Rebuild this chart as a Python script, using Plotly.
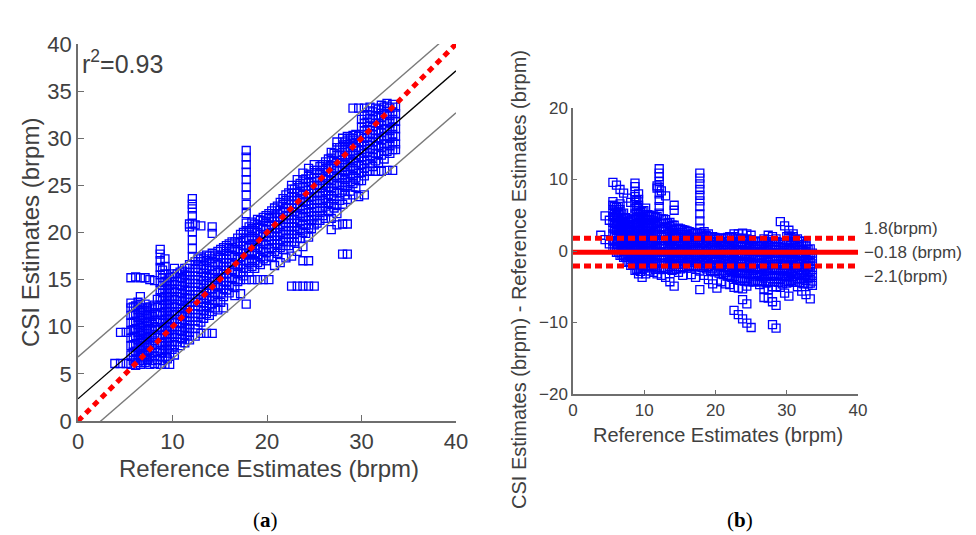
import plotly.graph_objects as go

# ---------------- data ----------------
# reference estimates (brpm) per column, and CSI estimates (brpm) in that column
ref_low = [3.9, 4.5, 5.1, 5.6, 6.1, 6.6, 7.1, 7.6, 8.1, 8.7, 9.2, 9.7]
csi_low = [
    [6.1],
    [6.1, 9.4],
    [6.1, 9.4],
    [6.0, 7.0, 8.0, 8.8, 9.6, 10.4, 11.2, 12.0, 12.5, 15.2],
    [5.9, 6.6, 7.4, 8.2, 9.0, 9.8, 10.6, 11.4, 12.2, 15.3],
    [6.0, 6.8, 7.6, 8.3, 9.1, 9.9, 10.7, 11.5, 12.4, 13.2, 15.2],
    [6.2, 7.0, 7.8, 8.6, 9.3, 10.1, 10.9, 11.7, 12.4, 15.2],
    [6.0, 6.7, 7.5, 8.3, 9.0, 9.8, 10.6, 11.3, 12.1, 15.0],
    [6.1, 6.9, 7.7, 8.5, 9.2, 10.0, 10.8, 11.5, 12.3, 14.9],
    [6.0, 6.8, 7.5, 8.3, 9.1, 9.9, 10.7, 11.5, 12.3, 13.1, 13.9, 14.7, 15.5, 16.3, 17.0, 17.7, 18.2],
    [6.0, 6.8, 7.6, 8.4, 9.2, 10.0, 10.8, 11.6, 12.4, 13.2, 14.0, 14.8, 15.6, 16.4, 17.2],
    [6.0, 7.2, 8.0, 8.8, 9.6, 10.4, 11.2, 12.0, 12.8, 13.6, 14.4, 15.2],
]

ref_mid = [10.2, 10.8, 11.3, 11.8, 12.1, 12.4, 13.0, 13.6, 14.2, 14.8, 15.4, 16.0,
           16.6, 17.2, 17.8, 18.4, 19.0, 19.6]
csi_mid = [
    [7.0, 8.1, 8.9, 9.7, 10.5, 11.3, 12.1, 12.9, 13.7, 14.5, 15.3, 16.2],
    [8.0, 8.8, 9.6, 10.4, 11.2, 12.0, 12.8, 13.6, 14.4, 15.2, 15.8],
    [8.3, 9.1, 9.9, 10.7, 11.5, 12.3, 13.1, 13.9, 14.7, 15.5, 16.2],
    [8.6, 9.4, 10.2, 11.0, 11.8, 12.6, 13.4, 14.2, 15.0, 15.8, 16.6, 20.6, 20.9],
    [17.4, 18.3, 19.2, 20.1, 21.0, 21.8, 22.5, 23.0, 23.6],
    [9.0, 9.8, 10.6, 11.4, 12.2, 13.0, 13.8, 14.6, 15.4, 16.2, 16.9, 20.8],
    [9.3, 10.5, 11.3, 12.1, 12.9, 13.7, 14.5, 15.3, 16.1, 16.9, 17.4, 20.7],
    [9.3, 11.4, 12.2, 13.0, 13.8, 14.6, 15.4, 16.2, 17.0, 17.6],
    [9.3, 11.6, 12.4, 13.2, 14.0, 14.8, 15.6, 16.4, 17.2, 17.8, 19.9, 20.6],
    [11.8, 12.6, 13.4, 14.2, 15.0, 15.8, 16.6, 17.4, 18.0],
    [12.0, 13.2, 14.0, 14.8, 15.6, 16.4, 17.2, 18.0, 18.4],
    [13.6, 14.4, 15.2, 16.0, 16.8, 17.6, 18.3, 18.8],
    [13.3, 14.2, 15.0, 15.8, 16.6, 17.4, 18.2, 19.0],
    [13.5, 15.0, 15.8, 16.6, 17.4, 18.2, 19.0, 19.8],
    [12.4, 15.0, 16.2, 17.0, 17.8, 18.6, 19.4, 20.2, 21.0, 22.0, 23.0, 24.0, 24.8,
     25.6, 26.4, 27.2, 28.0, 28.7],
    [15.0, 16.4, 17.2, 18.0, 18.8, 19.6, 20.4, 21.1],
    [15.0, 16.8, 17.6, 18.4, 19.2, 20.0, 20.8, 21.4],
    [15.0, 17.2, 18.0, 18.8, 19.6, 20.4, 21.2, 21.6],
]

ref_high = [20.2, 20.8, 21.4, 22.0, 22.6, 23.2, 23.8, 24.4, 25.0, 25.6, 26.2, 26.8,
            27.4, 28.0, 28.5, 29.1, 29.7, 30.3, 30.9, 31.5, 32.1, 32.7, 33.3, 33.6]
csi_high = [
    [15.0, 17.5, 18.3, 19.1, 19.9, 20.7, 21.5, 22.0],
    [16.5, 18.0, 18.8, 19.6, 20.4, 21.2, 22.0, 22.6],
    [16.8, 18.4, 19.2, 20.0, 20.8, 21.6, 22.4, 23.2],
    [17.3, 18.6, 19.4, 20.2, 21.0, 21.8, 22.6, 23.4, 24.0],
    [14.3, 17.5, 19.0, 19.8, 20.6, 21.4, 22.2, 23.0, 23.8, 24.6, 25.0],
    [14.3, 18.0, 19.4, 20.2, 21.0, 21.8, 22.6, 23.4, 24.2, 25.0, 25.6],
    [14.3, 17.0, 18.5, 20.0, 20.8, 21.6, 22.4, 23.2, 24.0, 24.8, 25.6, 26.3],
    [14.3, 17.0, 19.5, 20.5, 21.3, 22.1, 22.9, 23.7, 24.5, 25.3, 26.1, 26.8],
    [14.3, 20.8, 21.8, 22.6, 23.4, 24.2, 25.0, 25.8, 26.6, 27.2],
    [21.3, 22.3, 23.1, 23.9, 24.7, 25.5, 26.3, 27.0],
    [21.5, 22.8, 23.6, 24.4, 25.2, 26.0, 26.8, 27.5],
    [20.3, 21.5, 23.0, 23.9, 24.7, 25.5, 26.3, 27.1, 27.9, 28.5],
    [20.8, 22.0, 23.0, 24.2, 25.0, 25.8, 26.6, 27.4, 28.2, 29.0, 29.6],
    [17.7, 20.9, 23.0, 24.5, 25.3, 26.1, 26.9, 27.7, 28.5, 29.3, 30.0],
    [17.7, 20.9, 23.5, 25.0, 25.8, 26.6, 27.4, 28.2, 29.0, 29.8, 30.2],
    [24.0, 25.2, 26.0, 26.8, 27.6, 28.4, 29.2, 30.0, 30.3, 33.2],
    [23.8, 25.5, 26.3, 27.1, 27.9, 28.7, 29.5, 30.2, 33.2],
    [24.0, 26.0, 26.8, 27.6, 28.4, 29.2, 30.0, 30.8, 31.6, 32.4, 33.2],
    [26.5, 27.3, 28.1, 28.9, 29.7, 30.5, 31.3, 32.1, 32.9, 33.3],
    [26.5, 27.6, 28.4, 29.2, 30.0, 30.8, 31.6, 32.4, 33.2],
    [26.5, 28.2, 29.0, 29.8, 30.6, 31.4, 32.2, 33.0, 33.5],
    [26.6, 28.6, 29.4, 30.2, 31.0, 31.8, 32.6, 33.4, 33.7],
    [26.6, 28.8, 29.6, 30.4, 31.2, 32.0, 32.8, 33.6],
    [28.8, 29.4, 30.2, 31.0, 31.8, 32.6, 33.3],
]

# densely packed core of the cloud (between the columns above)
ref_core = [5.85, 6.35, 6.85, 7.35, 7.85, 8.4, 8.95, 9.45, 9.95, 10.5, 11.05, 11.55,
            12.7, 13.3, 13.9, 14.5, 15.1, 15.7, 16.3, 16.9, 17.5, 18.1, 18.7, 19.3,
            19.9, 20.5, 21.1, 21.7, 22.3, 22.9, 23.5, 24.1, 24.7, 25.3, 25.9, 26.5,
            27.1, 27.7, 28.25, 28.8, 29.4, 30.0, 30.6, 31.2, 31.8, 32.4, 33.0]
csi_core = [
    [6.4, 7.3, 8.1, 8.9, 9.7, 10.5, 11.3, 12.1],
    [6.2, 7.0, 7.8, 8.6, 9.4, 10.2, 11.0, 11.8, 12.6],
    [6.4, 7.2, 8.0, 8.8, 9.6, 10.4, 11.2, 12.0],
    [6.5, 7.3, 8.1, 8.9, 9.7, 10.5, 11.3, 12.0],
    [6.4, 7.2, 8.0, 8.8, 9.6, 10.4, 11.1, 11.9],
    [6.5, 7.3, 8.1, 8.9, 9.7, 10.5, 11.3, 12.1, 12.9],
    [6.4, 7.2, 8.0, 8.8, 9.6, 10.4, 11.2, 12.0, 12.8, 13.6, 14.4, 15.2, 16.0],
    [6.6, 7.6, 8.4, 9.2, 10.0, 10.8, 11.6, 12.4, 13.2, 14.0, 14.8],
    [7.6, 8.4, 9.2, 10.0, 10.8, 11.6, 12.4, 13.2, 14.0, 14.8, 15.6],
    [8.4, 9.2, 10.0, 10.8, 11.6, 12.4, 13.2, 14.0, 14.8, 15.6],
    [8.7, 9.5, 10.3, 11.1, 11.9, 12.7, 13.5, 14.3, 15.1, 15.9],
    [9.0, 9.8, 10.6, 11.4, 12.2, 13.0, 13.8, 14.6, 15.4, 16.2],
    [10.2, 11.0, 11.8, 12.6, 13.4, 14.2, 15.0, 15.8, 16.6, 17.2],
    [10.9, 11.7, 12.5, 13.3, 14.1, 14.9, 15.7, 16.5, 17.2],
    [11.2, 12.0, 12.8, 13.6, 14.4, 15.2, 16.0, 16.8, 17.5],
    [12.0, 12.8, 13.6, 14.4, 15.2, 16.0, 16.8, 17.6],
    [12.6, 13.6, 14.4, 15.2, 16.0, 16.8, 17.6, 18.2],
    [13.9, 14.8, 15.6, 16.4, 17.2, 18.0, 18.6],
    [14.3, 15.2, 16.0, 16.8, 17.6, 18.4, 19.0],
    [14.8, 15.6, 16.4, 17.2, 18.0, 18.8, 19.4],
    [15.4, 16.2, 17.0, 17.8, 18.6, 19.4, 20.0],
    [15.8, 16.8, 17.6, 18.4, 19.2, 20.0, 20.6],
    [16.2, 17.0, 17.8, 18.6, 19.4, 20.2, 20.9],
    [16.6, 17.4, 18.2, 19.0, 19.8, 20.6, 21.3],
    [17.0, 17.9, 18.7, 19.5, 20.3, 21.1, 21.8],
    [17.4, 18.4, 19.2, 20.0, 20.8, 21.6, 22.3],
    [17.8, 18.8, 19.6, 20.4, 21.2, 22.0, 22.8],
    [18.2, 19.0, 19.8, 20.6, 21.4, 22.2, 23.0, 23.6],
    [18.6, 19.4, 20.2, 21.0, 21.8, 22.6, 23.4, 24.2],
    [19.0, 19.8, 20.6, 21.4, 22.2, 23.0, 23.8, 24.6],
    [19.4, 20.4, 21.2, 22.0, 22.8, 23.6, 24.4, 25.2],
    [19.9, 20.9, 21.7, 22.5, 23.3, 24.1, 24.9, 25.7],
    [20.4, 21.4, 22.2, 23.0, 23.8, 24.6, 25.4, 26.2],
    [21.0, 21.8, 22.6, 23.4, 24.2, 25.0, 25.8, 26.6],
    [21.8, 22.6, 23.4, 24.2, 25.0, 25.8, 26.6, 27.2],
    [22.2, 23.2, 24.0, 24.8, 25.6, 26.4, 27.2, 27.8],
    [22.6, 23.6, 24.4, 25.2, 26.0, 26.8, 27.6, 28.4],
    [23.4, 24.2, 25.0, 25.8, 26.6, 27.4, 28.2, 29.0],
    [24.0, 24.8, 25.6, 26.4, 27.2, 28.0, 28.8, 29.6],
    [24.4, 25.4, 26.2, 27.0, 27.8, 28.6, 29.4, 30.0],
    [24.8, 25.8, 26.6, 27.4, 28.2, 29.0, 29.8, 30.4],
    [25.5, 26.4, 27.2, 28.0, 28.8, 29.6, 30.4, 31.2, 32.0],
    [26.5, 27.7, 28.5, 29.3, 30.1, 30.9, 31.7, 32.5],
    [27.0, 28.0, 28.8, 29.6, 30.4, 31.2, 32.0, 32.8],
    [27.4, 28.4, 29.2, 30.0, 30.8, 31.6, 32.4, 33.1],
    [27.8, 28.6, 29.4, 30.2, 31.0, 31.8, 32.6, 33.3],
    [28.4, 29.2, 30.0, 30.8, 31.6, 32.4, 33.2],
]

# fitted regression line and its band (panel a)
fit_slope = 0.87
fit_intercept = 2.35
fit_band = 4.45
line_x = [0, 40]

# Bland-Altman statistics (panel b)
bias = -0.18
loa_upper = 1.8
loa_lower = -2.1
bias_labels = ["1.8(brpm)", "\u22120.18 (brpm)", "\u22122.1(brpm)"]

# ---------------- build ----------------
ref, csi = [], []
for refs, cols in ((ref_low, csi_low), (ref_mid, csi_mid), (ref_high, csi_high),
                   (ref_core, csi_core)):
    for r, col in zip(refs, cols):
        ref += [r] * len(col)
        csi += col
diff = [c - r for r, c in zip(ref, csi)]

TXT = "#404040"
AX = "#6e6e6e"
FONT = "Liberation Sans, Arial, sans-serif"
marker = dict(symbol="square-open", size=8, color="rgb(0,0,255)",
              line=dict(width=1.3, color="rgb(0,0,255)"))

fig = go.Figure()
# panel (a)
fig.add_trace(go.Scatter(x=ref, y=csi, mode="markers", marker=marker,
                         xaxis="x", yaxis="y", showlegend=False))
for off, col, w in ((fit_band, "#7a7a7a", 1.4), (-fit_band, "#7a7a7a", 1.4), (0, "black", 1.3)):
    fig.add_trace(go.Scatter(x=line_x, y=[fit_slope * v + fit_intercept + off for v in line_x],
                             mode="lines", line=dict(color=col, width=w),
                             xaxis="x", yaxis="y", showlegend=False))
fig.add_trace(go.Scatter(x=line_x, y=line_x, mode="lines",
                         line=dict(color="red", width=5, dash="6px,5px"),
                         xaxis="x", yaxis="y", showlegend=False))
# panel (b)
fig.add_trace(go.Scatter(x=ref, y=diff, mode="markers", marker=marker,
                         xaxis="x2", yaxis="y2", showlegend=False))
fig.add_trace(go.Scatter(x=line_x, y=[bias, bias], mode="lines",
                         line=dict(color="red", width=5),
                         xaxis="x2", yaxis="y2", showlegend=False))
for lv in (loa_upper, loa_lower):
    fig.add_trace(go.Scatter(x=line_x, y=[lv, lv], mode="lines",
                             line=dict(color="red", width=5, dash="7px,4px"),
                             xaxis="x2", yaxis="y2", showlegend=False))

axis_common = dict(showgrid=False, zeroline=False, showline=True, linecolor=AX, linewidth=1.5,
                   ticks="inside", tickcolor=AX, tickwidth=1.2, mirror=False,
                   automargin=False)

fig.update_layout(
    width=976, height=535, margin=dict(l=0, r=0, t=0, b=0, autoexpand=False),
    paper_bgcolor="white", plot_bgcolor="white",
    font=dict(family=FONT, color=TXT),
    xaxis=dict(domain=[78 / 976, 456 / 976], range=[0, 40], tickvals=[0, 10, 20, 30, 40],
               ticklen=6, tickfont=dict(size=22, color=TXT), anchor="y", **axis_common),
    yaxis=dict(domain=[(535 - 421) / 535, (535 - 44) / 535], range=[0, 40],
               tickvals=[0, 5, 10, 15, 20, 25, 30, 35, 40], ticklen=6,
               tickfont=dict(size=22, color=TXT), anchor="x", **axis_common),
    xaxis2=dict(domain=[573 / 976, 858 / 976], range=[0, 40], tickvals=[0, 10, 20, 30, 40],
                ticklen=4, tickfont=dict(size=17, color=TXT), anchor="y2", **axis_common),
    yaxis2=dict(domain=[(535 - 394) / 535, (535 - 108) / 535], range=[-20, 20],
                tickvals=[-20, -10, 0, 10, 20], ticklen=4,
                tickfont=dict(size=17, color=TXT), anchor="x2", **axis_common),
)

ann = []
ann.append(dict(text="Reference Estimates (brpm)", x=269 / 976, y=(535 - 468) / 535,
                font=dict(size=24, color=TXT)))
ann.append(dict(text="CSI Estimates (brpm)", x=30 / 976, y=(535 - 233) / 535, textangle=-90,
                font=dict(size=24, color=TXT)))
ann.append(dict(text="r<sup>2</sup>=0.93", x=80 / 976, y=(535 - 62) / 535, xanchor="left",
                font=dict(size=25, color=TXT)))
ann.append(dict(text="Reference Estimates (brpm)", x=718 / 976, y=(535 - 435) / 535,
                font=dict(size=20, color=TXT)))
ann.append(dict(text="CSI Estimates (brpm) - Reference Estimates (brpm)", x=519 / 976,
                y=(535 - 280) / 535, textangle=-90, font=dict(size=20, color=TXT)))
for lbl, py in zip(bias_labels, (228, 252, 276)):
    ann.append(dict(text=lbl, x=862 / 976, y=(535 - py) / 535, xanchor="left",
                    font=dict(size=17, color=TXT)))
ann.append(dict(text="(<b>a</b>)", x=265 / 976, y=(535 - 520) / 535,
                font=dict(size=21, color="black", family="Liberation Serif, serif")))
ann.append(dict(text="(<b>b</b>)", x=740 / 976, y=(535 - 520) / 535,
                font=dict(size=21, color="black", family="Liberation Serif, serif")))
for a in ann:
    a.setdefault("xanchor", "center")
    a.update(xref="paper", yref="paper", yanchor="middle", showarrow=False)
fig.update_layout(annotations=ann)

fig.write_html("out.html", config={"displayModeBar": False},
               post_script="document.body.style.margin='0';document.body.style.overflow='hidden';")
